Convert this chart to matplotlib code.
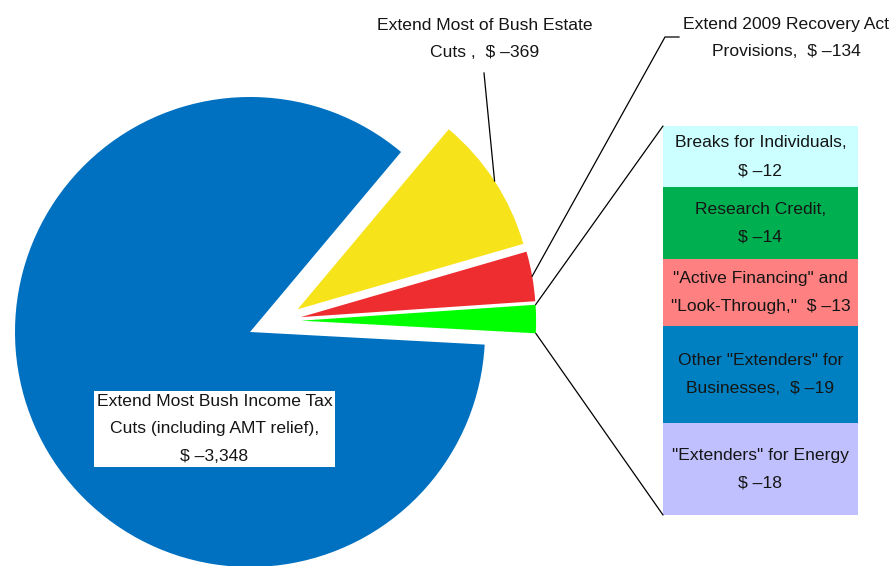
import numpy as np
import matplotlib
matplotlib.use("Agg")
import matplotlib.pyplot as plt
from matplotlib.patches import ConnectionPatch
from matplotlib import font_manager

# ---- data (billions of dollars) ----
pie_labels = [
    "Extend Most Bush Income Tax\nCuts (including AMT relief),\n$ \u20133,348",
    "Other",
    "Extend 2009 Recovery Act\nProvisions,  $ \u2013134",
    "Extend Most of Bush Estate\nCuts ,  $ \u2013369",
]
pie_values = [3348, 76, 134, 369]

bar_labels = [
    "Breaks for Individuals,\n$ \u201312",
    "Research Credit,\n$ \u201314",
    "\"Active Financing\" and\n\"Look-Through,\"  $ \u201313",
    "Other \"Extenders\" for\nBusinesses,  $ \u201319",
    "\"Extenders\" for Energy\n$ \u201318",
]
bar_values = [12, 14, 13, 19, 18]

pie_colors = ["#0070C0", "#00FF00", "#EE2D30", "#F6E31A"]
bar_colors = ["#CCFFFF", "#00B050", "#FF8080", "#0080C0", "#C0C0FF"]

# ---- fonts ----
available = {f.name for f in font_manager.fontManager.ttflist}
family = [f for f in ["Liberation Sans Narrow", "Liberation Sans", "DejaVu Sans"] if f in available]
plt.rcParams["font.family"] = family
FS = 12.6
LS = 2.05
TXT = "#151515"

W, H = 893, 566
fig = plt.figure(figsize=(W / 100, H / 100), dpi=100)
fig.patch.set_facecolor("white")

# pie axes: unit radius maps to R pixels, pie centre at (CX, CY) pixels
CX, CY, R = 250, 332, 235
ax = fig.add_axes([0, 0, 1, 1])
ax.axis("off")

explode = [0, 0.09, 0.09, 0.09]
wedges, _ = ax.pie(pie_values, colors=pie_colors, startangle=50, counterclock=True,
                   explode=explode, radius=1, center=(0, 0),
                   wedgeprops=dict(linewidth=0))
ax.set_xlim(-CX / R, (W - CX) / R)
ax.set_ylim(-(H - CY) / R, CY / R)
ax.set_aspect("equal")

# shift the small-slice group away from the main slice
t_lo = wedges[1].theta1
t_hi = wedges[3].theta2
gmid = np.deg2rad(0.5 * (t_lo + t_hi) - 3)
shift = 0.136 * np.array([np.cos(gmid), np.sin(gmid)])
for w in wedges[1:]:
    c = np.array(w.center) + shift
    w.set_center(tuple(c))

def arc_point(w, ang):
    a = np.deg2rad(ang)
    c = np.array(w.center)
    return c + w.r * np.array([np.cos(a), np.sin(a)])

def px(x, y):
    return ((x - CX) / R, (CY - y) / R)

# main slice label in a white box
ax.text(*px(214.5, 429), pie_labels[0], ha="center", va="center", fontsize=FS,
        linespacing=LS, color=TXT,
        bbox=dict(boxstyle="square,pad=0.15", facecolor="white", edgecolor="none"))

# estate label with leader line
w_est = wedges[3]
p_est = arc_point(w_est, 0.5 * (w_est.theta1 + w_est.theta2))
ax.text(*px(485, 39), pie_labels[3], ha="center", va="center", fontsize=FS,
        linespacing=LS, color=TXT)
ax.plot([p_est[0], px(484, 73)[0]], [p_est[1], px(484, 73)[1]], color="black", lw=0.9)

# recovery act label with elbow leader line
w_rec = wedges[2]
p_rec = arc_point(w_rec, 0.5 * (w_rec.theta1 + w_rec.theta2))
ax.text(*px(786, 38), pie_labels[2], ha="center", va="center", fontsize=FS,
        linespacing=LS, color=TXT)
e1 = px(665, 37)
e2 = px(679, 37)
ax.plot([p_rec[0], e1[0], e2[0]], [p_rec[1], e1[1], e2[1]], color="black", lw=0.9)

# stacked breakdown bar
BX0, BX1, BY0, BY1 = 663, 858, 126, 515
bax = fig.add_axes([BX0 / W, (H - BY1) / H, (BX1 - BX0) / W, (BY1 - BY0) / H])
total = sum(bar_values)
bax.set_xlim(0, 1)
bax.set_ylim(0, total)
bax.axis("off")
top = total
for lab, val, col in zip(bar_labels, bar_values, bar_colors):
    bottom = top - val
    bax.bar(0.5, val, width=1.0, bottom=bottom, color=col, linewidth=0)
    bax.text(0.5, bottom + val / 2, lab, ha="center", va="center", fontsize=FS,
             linespacing=LS, color=TXT)
    top = bottom

# connector lines from the "Other" slice to the bar
w_oth = wedges[1]
p_top = arc_point(w_oth, w_oth.theta2)
p_bot = arc_point(w_oth, w_oth.theta1)
for p, yb in [(p_top, total), (p_bot, 0)]:
    con = ConnectionPatch(xyA=tuple(p), coordsA=ax.transData,
                          xyB=(0, yb), coordsB=bax.transData,
                          color="black", lw=0.9)
    fig.add_artist(con)

fig.savefig("out.png", dpi=100, facecolor="white")
